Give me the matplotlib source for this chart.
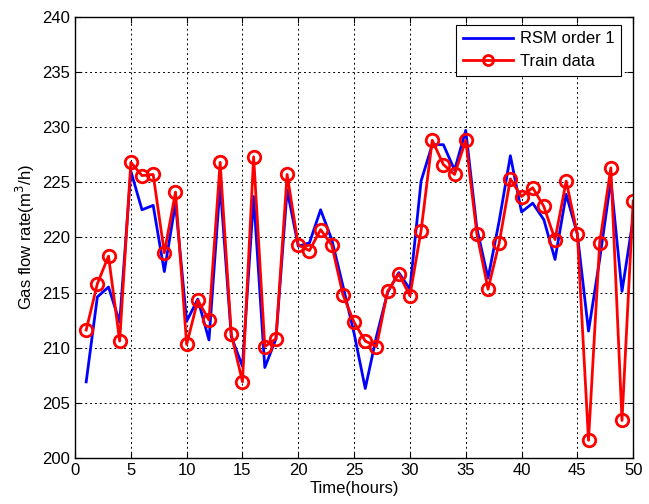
import numpy as np
import matplotlib
matplotlib.use('Agg')
import matplotlib.pyplot as plt

plt.rcParams['font.family'] = ['Liberation Sans', 'DejaVu Sans']

hours = np.arange(1, 51)

rsm_order1 = [206.9, 214.6, 215.5, 212.3, 226.0, 222.5, 222.9, 216.9, 223.1, 212.4,
              214.4, 210.7, 224.8, 211.0, 208.3, 223.7, 208.2, 210.8, 224.3, 219.2,
              219.5, 222.5, 219.8, 215.6, 211.3, 206.3, 211.0, 215.0, 216.8, 215.3,
              225.1, 228.4, 228.4, 226.1, 229.7, 220.8, 216.3, 221.5, 227.4, 222.3,
              223.1, 221.6, 218.0, 223.9, 220.3, 211.5, 218.0, 225.2, 215.1, 221.7]

train_data = [211.6, 215.8, 218.3, 210.6, 226.8, 225.6, 225.7, 218.6, 224.1, 210.3,
              214.3, 212.5, 226.8, 211.2, 206.9, 227.3, 210.1, 210.8, 225.7, 219.3,
              218.8, 220.7, 219.3, 214.8, 212.3, 210.6, 210.1, 215.1, 216.7, 214.7,
              220.6, 228.8, 226.6, 225.7, 228.8, 220.3, 215.3, 219.5, 225.3, 223.7,
              224.5, 222.8, 219.8, 225.1, 220.3, 201.6, 219.5, 226.3, 203.4, 223.3]

fig = plt.figure(figsize=(6.49, 5.04), dpi=100)
ax = fig.add_axes([0.1156, 0.0913, 0.8600, 0.8755])

ax.plot(hours, rsm_order1, color='#0000ff', lw=2, label='RSM order 1')
ax.plot(hours, train_data, color='#ff0000', lw=2, marker='o', markersize=9,
        markerfacecolor='none', markeredgewidth=2, label='Train data')

ax.set_xlim(0, 50)
ax.set_ylim(200, 240)
ax.set_xticks(np.arange(0, 51, 5))
ax.set_yticks(np.arange(200, 241, 5))
ax.tick_params(direction='in', labelsize=12, length=4, top=True, right=True)
ax.grid(True, color='black', linestyle=(0, (2, 3)), linewidth=0.7)
for s in ax.spines.values():
    s.set_linewidth(1)

ax.set_xlabel('Time(hours)', fontsize=12, labelpad=2)
ax.set_ylabel('Gas flow rate(m$^3$/h)', fontsize=12, labelpad=4)

leg = ax.legend(loc='upper right', bbox_to_anchor=(0.978, 0.982), borderaxespad=0,
                fontsize=12, fancybox=False, framealpha=1, edgecolor='black',
                handlelength=3.0, handletextpad=0.4, labelspacing=0.45,
                borderpad=0.4, markerscale=0.8)
leg.get_frame().set_linewidth(0.8)

fig.savefig('out.png', dpi=100)
